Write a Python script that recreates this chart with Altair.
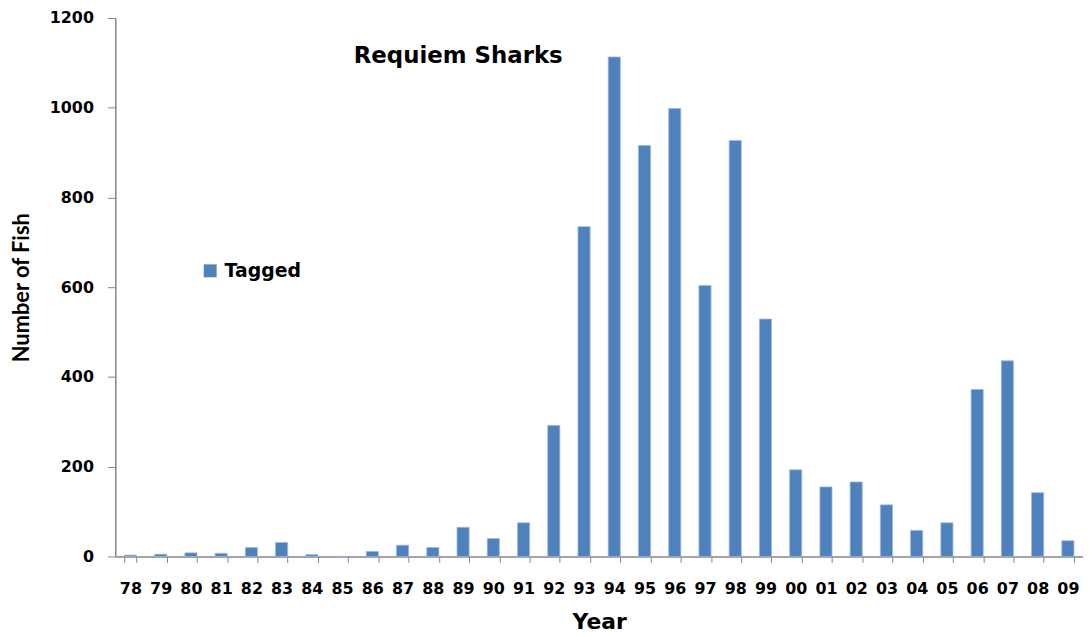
import altair as alt
import pandas as pd

years = ["78", "79", "80", "81", "82", "83", "84", "85", "86", "87", "88", "89",
         "90", "91", "92", "93", "94", "95", "96", "97", "98", "99", "00", "01",
         "02", "03", "04", "05", "06", "07", "08", "09"]
tagged = [3, 5, 8, 7, 20, 31, 4, 0, 11, 25, 20, 65,
          40, 75, 292, 735, 1113, 916, 998, 604, 927, 529, 193, 155,
          166, 115, 58, 75, 372, 436, 142, 35]
series = ["Tagged"] * len(years)
y_ticks = [0, 200, 400, 600, 800, 1000, 1200]

df = pd.DataFrame({"Year": years, "Fish": tagged, "Series": series})

FONT = "DejaVu Sans"
AXIS_COLOR = "#868686"

chart = alt.Chart(df).mark_bar(
    color="#4F81BD", stroke="#9DB7DA", strokeWidth=0.8
).encode(
    x=alt.X("Year:N", sort=years,
            scale=alt.Scale(paddingInner=0.6, paddingOuter=0.3),
            axis=alt.Axis(title="Year", labelAngle=0, labelFont=FONT, labelFontSize=16,
                          labelFontWeight="bold", labelColor="#000000", labelPadding=18,
                          tickBand="extent", tickSize=6, tickColor=AXIS_COLOR,
                          domainColor=AXIS_COLOR, domainWidth=1.5,
                          titleFont=FONT, titleFontSize=22, titleFontWeight="bold",
                          titleColor="#000000", titleY=73, titleBaseline="alphabetic")),
    y=alt.Y("Fish:Q",
            scale=alt.Scale(domain=[0, 1200]),
            axis=alt.Axis(title="Number of Fish", values=y_ticks, format="d",
                          grid=False, labelFont=FONT, labelFontSize=16, labelFontWeight="bold",
                          labelColor="#000000", labelPadding=14, tickSize=8,
                          tickColor=AXIS_COLOR, domainColor=AXIS_COLOR, domainWidth=1.5,
                          titleFont="Lato", titleFontSize=22, titleFontWeight="bold",
                          titleColor="#000000", titleX=-94, titleBaseline="middle")),
    color=alt.Color("Series:N", scale=alt.Scale(range=["#4F81BD"]),
                    legend=alt.Legend(title=None, orient="none", legendX=86, legendY=245,
                                      symbolType="square", symbolSize=169,
                                      symbolStrokeWidth=0, labelFont=FONT,
                                      labelFontSize=19, labelFontWeight="bold",
                                      labelColor="#000000", labelOffset=5, padding=0)),
).properties(
    width=974,
    height=542,
    title=alt.TitleParams("Requiem Sharks", anchor="start", frame="group", dx=240, dy=76,
                          offset=0, baseline="alphabetic", font=FONT, fontSize=23,
                          fontWeight="bold", color="#000000"),
    autosize=alt.AutoSizeParams(type="none"),
    padding={"left": 108, "top": 8, "right": 0, "bottom": 76},
).configure_view(stroke=None)

chart.save("out.html", embed_options={"renderer": "svg", "actions": False})
